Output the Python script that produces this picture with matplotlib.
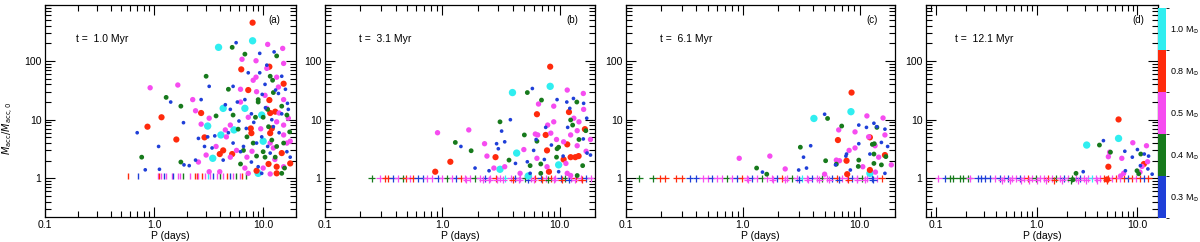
import numpy as np
import matplotlib
matplotlib.use("Agg")
import matplotlib.pyplot as plt
from matplotlib.colors import ListedColormap, BoundaryNorm
from matplotlib.cm import ScalarMappable
from matplotlib.ticker import LogLocator, NullFormatter

plt.rcParams['font.family'] = ['Liberation Sans', 'DejaVu Sans']
plt.rcParams['font.size'] = 7.5

# stellar mass bins and their colours
MASSES = [0.3, 0.4, 0.5, 0.8, 1.0]
MASS_LABELS = ["0.3 M$_{\\odot}$", "0.4 M$_{\\odot}$", "0.5 M$_{\\odot}$",
               "0.8 M$_{\\odot}$", "1.0 M$_{\\odot}$"]
COLORS = {0.3: "#1f3fd8", 0.4: "#177a1c", 0.5: "#f64cf0",
          0.8: "#ff2a0c", 1.0: "#30eef0"}
DOT_SIZE = {0.3: 7, 0.4: 12, 0.5: 15, 0.8: 20, 1.0: 28}

AGES = ["t =  1.0 Myr", "t =  3.1 Myr", "t =  6.1 Myr", "t =  12.1 Myr"]
PANEL_TAGS = ["(a)", "(b)", "(c)", "(d)"]


# ---------------- panel (a), t = 1.0 Myr ----------------
a03_P = [0.70, 1.1, 1.12, 0.83, 1.42, 1.88, 2.1, 1.86, 3.2, 2.7, 2.55, 3.1, 2.9, 2.4, 5.65, 9.3,
         12.6, 10.8, 9.3, 7.3, 5.3, 5.8, 4.5, 5.0, 6.8, 7.8, 13.8, 16, 16.7, 14.8, 9.7, 11.6,
         8.7, 6.6, 5.3, 4.3, 3.4, 7.8, 9, 9.7, 16.5, 17.7, 3.6, 6.2, 7.0, 12.4, 14.8, 10.4,
         12, 14, 8.2, 11, 6.0, 4.8, 17, 10.5, 13, 9.8]
a03_y = [6.0, 3.5, 1.43, 1.4, 20, 1.7, 1.65, 8.9, 37, 22, 4.8, 5.1, 3.5, 2.05, 205, 135,
         143, 85, 63, 63, 37, 20, 18, 15, 22, 12.6, 28, 33, 19, 55, 5.1, 2.7,
         4.0, 3.5, 4.0, 2.05, 3.3, 1.9, 1.58, 1.22, 2.85, 2.3, 5.3, 2.85, 7.1, 7.6, 12.6, 40,
         10, 6, 9, 3.5, 9.5, 6, 15, 16, 32, 27]
a04_P = [0.77, 1.29, 1.76, 3.0, 1.76, 5.2, 6.8, 4.8, 3.7, 5.3, 5.9, 13.3, 11.6, 12.2, 9.0, 9.0,
         10, 12.4, 14.8, 7.1, 8.1, 10, 10.4, 12.9, 14.8, 15.7, 6.2, 8.7, 17.5, 15.4, 11.2, 13.3,
         8.5, 11, 16.5, 6.6, 12]
a04_y = [2.3, 24, 17, 55, 1.9, 171, 131, 33, 11.6, 12, 6.9, 122, 55, 47, 22, 20,
         11, 29, 17, 5.1, 4.0, 2.85, 2.3, 2.3, 1.22, 1.5, 1.76, 2.4, 6.2, 4.0, 7.6, 3.5,
         11, 15, 12, 3, 4.5]
a05_P = [0.92, 1.65, 2.26, 2.4, 2.7, 3.2, 2.55, 3.0, 4.5, 5.0, 4.6, 3.7, 6.2, 8.6, 6.4, 11,
         15.1, 15.4, 8.6, 8.1, 10.8, 13.3, 13.8, 8.7, 10.4, 15.4, 10.8, 13.3, 15.4, 11.6, 12.4,
         15.4, 16.5, 5.0, 5.7, 7.1, 6.8, 3.2, 4.0, 7.3, 10, 11.6, 15.4, 17.7, 17, 6.2, 7.3,
         9.5, 12.8, 14, 7.9]
a05_y = [35, 39, 22, 14.2, 8.4, 10.6, 1.9, 2.5, 6.7, 8.1, 5.1, 3.5, 33, 101, 107, 192,
         164, 91, 53, 47, 75, 53, 36, 30, 26, 22, 15.6, 9.2, 8.1, 4.0, 3.3,
         5.5, 4.0, 2.3, 3.0, 2.3, 1.5, 1.3, 1.3, 1.22, 1.5, 1.19, 1.58, 4.3, 10.6, 20, 11,
         7, 2.1, 13, 2.9]
a08_P = [8.0, 6.3, 11.4, 7.3, 15.4, 1.17, 0.87, 1.6, 2.7, 2.9, 11.4, 12.9, 11.6, 7.7, 7.8,
         11.6, 4.3, 4.0, 5.2, 8.7, 11.2, 13.3, 17.7, 13.3, 14.8, 12]
a08_y = [450, 72, 80, 32, 41, 11, 7.6, 4.6, 13, 5.0, 21.6, 13.7, 13, 7.1, 5.9,
         5.9, 3.0, 2.6, 2.6, 1.35, 1.76, 1.58, 1.8, 1.22, 2.7, 7.1]
a10_P = [3.9, 8.0, 4.3, 3.1, 4.1, 3.45, 5.4, 6.8, 9.7, 9.0, 10]
a10_y = [171, 221, 15.6, 7.8, 5.5, 2.2, 6.7, 15.6, 12, 1.22, 4.3]

# stars still at their initial accretion rate (drawn as ticks)
a_flat_P = [0.58, 0.71, 1.08, 1.12, 1.15, 1.22, 1.29, 1.45, 1.50, 1.65, 1.73, 1.86, 2.14, 2.38,
            2.46, 2.55, 2.74, 2.94, 3.13, 3.26, 3.48, 3.76, 4.03, 4.3, 4.64, 4.98, 5.34, 5.65,
            6.15, 6.4, 6.9]
a_flat_m = [0.8, 0.3, 0.5, 0.8, 0.5, 0.3, 0.5, 0.5, 0.3, 0.5, 0.5, 0.4, 0.5, 0.8,
            0.8, 0.5, 0.8, 0.5, 1.0, 0.5, 0.3, 0.5, 0.4, 0.5, 0.8, 0.3, 0.5, 0.4,
            0.5, 0.8, 0.4]
a_flat_y = 1.1

# ---------------- panel (b), t = 3.1 Myr ----------------
b03_P = [1.44, 1.9, 2.5, 3.2, 3.8, 2.9, 3.0, 3.4, 5.85, 9.5, 11.5, 16, 13.1, 7.6, 6.3, 6.0,
         5.3, 4.2, 7.4, 11.7, 12.2, 17, 15.9, 17.1, 18.3, 10.7, 8.5, 5.6, 9.8]
b03_y = [3.5, 1.5, 1.35, 6.4, 10, 3.9, 3.2, 4.2, 34, 22, 20, 19, 23, 7.4, 4.6, 3.0,
         1.92, 1.8, 2.1, 7.4, 15.6, 10.6, 4.7, 2.7, 2.5, 2.4, 3.7, 1.22, 1.3]
b04_P = [1.29, 1.76, 3.1, 5.3, 7.0, 3.7, 5.0, 5.6, 6.4, 6.9, 9.8, 9.5, 12.4, 12.9, 14, 16.7,
         14.6, 9.4, 6.9, 14.1, 15.7]
b04_y = [4.1, 2.96, 9.2, 29, 21.6, 2.05, 5.5, 1.65, 4.3, 1.76, 3.4, 3.2, 9.9, 8.1, 20, 6.5,
         4.6, 2.3, 1.22, 1.12, 1.65]
b05_P = [0.91, 1.68, 2.29, 2.4, 6.6, 8.9, 11.6, 15.9, 16, 7.9, 8.9, 6.2, 6.5, 4.95, 6.4, 4.6,
         3.4, 2.75, 10.8, 12.4, 14.1, 14.6, 13.2, 18.3, 14.1, 11.3, 7.8, 11.6, 16.8, 8.4,
         12.4, 9.4]
b05_y = [6.0, 6.7, 3.9, 2.4, 18.5, 17, 32, 28, 15, 8.1, 9.2, 5.7, 5.5, 3.1, 2.2, 1.22,
         1.58, 1.5, 4.2, 5.5, 6.5, 9.2, 10.6, 4.6, 3.6, 1.8, 1.58, 1.22, 2.9, 5.9,
         1.12, 4.6]
b08_P = [8.3, 6.4, 12, 16.4, 7.6, 7.8, 2.84, 1.17, 0.87, 10.8, 12.4, 13.6, 11.6, 8.1, 14.5]
b08_y = [80, 12.4, 13.5, 6.9, 5.5, 3.0, 2.3, 1.92, 1.3, 2.1, 2.3, 2.3, 3.8, 1.3, 2.4]
b10_P = [3.96, 8.3, 4.3, 3.1, 9.8, 5.4]
b10_y = [29, 37, 2.7, 1.43, 1.7, 1.1]

b_flat_P = [0.25, 0.295, 0.326, 0.345, 0.38, 0.42, 0.46, 0.49, 0.53, 0.56, 0.62, 0.69, 0.74,
            0.82, 0.91, 1.0, 1.1, 1.22, 1.32, 1.43, 1.57, 1.73, 1.9, 2.1, 2.33, 2.57, 2.84,
            3.13, 3.45, 3.81, 4.2, 4.6, 5.1, 5.65, 6.2, 6.9, 7.6, 8.4, 9.2, 10.2, 11.2, 12.4,
            13.7, 15.1, 16.7, 18.4]
b_flat_m = [0.4, 0.5, 0.8, 0.8, 0.3, 0.5, 0.4, 0.8, 0.5, 0.8, 0.3, 0.3, 0.5,
            0.5, 0.3, 0.5, 0.4, 0.5, 0.3, 0.8, 0.5, 0.5, 0.4, 0.5, 0.3, 0.5, 0.8,
            0.5, 1.0, 0.5, 0.3, 0.5, 0.4, 0.5, 0.8, 0.3, 0.5, 0.8, 0.5, 0.3, 0.4, 0.5,
            0.8, 0.5, 0.3, 0.5]
b_flat_y = 1.0
b_low_P = [1.6, 2.2, 2.5, 2.9, 3.3, 4.0, 4.5, 5.4, 6.0, 7.0, 8.0, 9.0, 10.5, 12, 13.5, 15.5]
b_low_m = [0.5, 0.5, 0.5, 0.5, 0.5, 0.8, 0.5, 0.3, 0.5, 0.8, 0.4, 0.5, 0.8, 0.3, 0.5, 0.8]
b_low_y = 0.95

# ---------------- panel (c), t = 6.1 Myr ----------------
c03_P = [1.47, 3.0, 3.3, 3.5, 3.8, 5.0, 6.2, 7.7, 7.6, 9.8, 9.8, 11.4, 13.2, 14, 16.4, 15.3,
         17.3, 16.4, 12.2, 8.3]
c03_y = [1.28, 1.39, 2.3, 1.5, 3.6, 12.4, 1.7, 2.6, 2.4, 8.1, 3.9, 7.4, 8.7, 7.6, 6.9, 4.1,
         3.5, 1.22, 2.6, 1.39]
c04_P = [1.31, 3.1, 5.3, 7.0, 5.1, 6.3, 14, 12.8, 13.3, 13.2, 16.7, 15.3, 13.2, 9.8, 9.7, 1.6]
c04_y = [1.5, 3.4, 10.5, 7.8, 2.0, 1.75, 7.4, 3.8, 3.9, 2.6, 2.35, 1.7, 1.8, 2.05, 1.6, 1.18]
c05_P = [0.93, 1.7, 2.3, 6.6, 6.3, 6.7, 8.1, 9.1, 9.1, 11.5, 15.8, 16.4, 11.9, 13.5, 14.5,
         18.6, 13.6, 10.6, 5.0]
c05_y = [2.2, 2.4, 1.45, 6.7, 2.05, 2.0, 3.0, 3.3, 6.2, 11.6, 10.7, 5.5, 5.1, 3.6, 2.3,
         1.7, 1.28, 1.58, 1.18]
c08_P = [8.5, 6.5, 12.2, 7.7, 16.4, 12.2, 7.8]
c08_y = [29, 4.5, 5.0, 2.0, 2.5, 1.39, 1.18]
c10_P = [4.05, 8.4, 12.2]
c10_y = [10.5, 13.7, 1.22]

c_flat_P = [0.13, 0.17, 0.195, 0.215, 0.27, 0.30, 0.35, 0.40, 0.455, 0.50, 0.54, 0.60, 0.66,
            0.73, 0.81, 0.89, 0.98, 1.08, 1.19, 1.32, 1.45, 1.6, 1.77, 1.95, 2.15, 2.38, 2.62,
            2.9, 3.19, 3.52, 3.89, 4.29, 4.73, 5.22, 5.76, 6.36, 7.0, 7.74, 8.5, 9.4, 10.4,
            11.5, 12.7, 14, 15.4]
c_flat_m = [0.4, 0.4, 0.8, 0.8, 0.8, 0.8, 0.3, 0.3, 0.5, 0.5, 0.3, 0.5, 0.5,
            0.4, 0.5, 0.3, 0.8, 0.5, 0.3, 0.5, 0.4, 0.5, 0.5, 0.3, 0.8, 0.5, 0.4,
            0.5, 1.0, 0.5, 0.3, 0.5, 0.4, 0.5, 0.3, 0.8, 0.5, 0.5, 0.3, 0.5, 0.4,
            0.5, 0.3, 0.5, 0.8]
c_flat_y = 1.0
c_low_P = [1.1, 1.8, 2.3, 3.0, 3.6, 4.5, 5.5, 6.6, 8.0, 9.5, 11, 13]
c_low_m = [0.5, 0.5, 0.5, 0.3, 0.5, 0.5, 0.5, 0.3, 0.8, 0.5, 0.5, 0.3]
c_low_y = 0.95

# ---------------- panel (d), t = 12.1 Myr ----------------
d03_P = [4.6, 2.9, 7.5, 7.6, 8.9, 10.0, 12.9, 12.7, 14, 11.7, 10.7]
d03_y = [4.4, 1.3, 2.9, 1.35, 2.3, 3.1, 2.4, 1.45, 1.18, 2.6, 1.65]
d04_P = [4.2, 5.4, 2.46, 10.8, 9.9, 10.3, 2.3]
d04_y = [3.7, 2.8, 1.22, 2.6, 1.35, 1.2, 0.95]
d05_P = [5.15, 5.3, 7.0, 7.3, 9.0, 12.3, 12.6, 10.6, 11.1, 6.8]
d05_y = [2.34, 2.8, 2.2, 1.22, 4.05, 3.6, 1.92, 1.28, 1.6, 1.1]
d08_P = [6.5, 5.15, 11.6, 5.0]
d08_y = [10.1, 1.58, 1.76, 0.96]
d10_P = [3.14, 6.5]
d10_y = [3.7, 4.8]

d_flat_P = [0.106, 0.124, 0.138, 0.148, 0.174, 0.186, 0.209, 0.219, 0.262, 0.281, 0.308,
            0.345, 0.387, 0.434, 0.475, 0.521, 0.57, 0.625, 0.685, 0.75, 0.82, 0.90, 0.99,
            1.08, 1.19, 1.3, 1.42, 1.56, 1.71, 1.87, 2.05, 2.25, 2.46, 2.7, 2.96, 3.24, 3.55,
            3.89, 4.26, 4.67, 5.12, 5.6, 6.14, 6.73, 7.38, 8.08, 8.85, 9.7, 10.6, 11.65, 12.8]
d_flat_m = [0.5, 0.3, 0.4, 0.4, 0.4, 0.4, 0.4, 0.5, 0.3, 0.3, 0.3,
            0.3, 0.5, 0.3, 0.5, 0.3, 0.5, 0.5, 0.3, 0.5, 0.8, 0.5, 0.4,
            0.5, 0.5, 0.8, 0.5, 0.4, 0.5, 0.3, 0.5, 0.4, 0.5, 0.3, 0.5, 0.5, 1.0,
            0.5, 0.5, 0.8, 0.8, 0.5, 0.8, 0.5, 0.8, 0.3, 0.8, 0.5, 0.8, 0.3, 0.8]
d_flat_y = 1.0
d_low_P = [0.45, 0.55, 0.7, 0.85, 1.0, 1.25, 1.5, 1.8, 2.2, 2.6, 3.1, 4.0, 5.0]
d_low_m = [0.5, 0.5, 0.5, 0.5, 0.5, 0.5, 0.8, 0.5, 0.4, 0.5, 0.5, 0.5, 0.8]
d_low_y = 0.93


panels = [
    {"dots": {0.3: (a03_P, a03_y), 0.4: (a04_P, a04_y), 0.5: (a05_P, a05_y),
              0.8: (a08_P, a08_y), 1.0: (a10_P, a10_y)},
     "flat": [(a_flat_P, a_flat_m, a_flat_y)], "marker": "|",
     "rect": [45, 251], "xlim": (0.1, 20)},
    {"dots": {0.3: (b03_P, b03_y), 0.4: (b04_P, b04_y), 0.5: (b05_P, b05_y),
              0.8: (b08_P, b08_y), 1.0: (b10_P, b10_y)},
     "flat": [(b_flat_P, b_flat_m, b_flat_y), (b_low_P, b_low_m, b_low_y)], "marker": "+",
     "rect": [325, 270], "xlim": (0.1, 20)},
    {"dots": {0.3: (c03_P, c03_y), 0.4: (c04_P, c04_y), 0.5: (c05_P, c05_y),
              0.8: (c08_P, c08_y), 1.0: (c10_P, c10_y)},
     "flat": [(c_flat_P, c_flat_m, c_flat_y), (c_low_P, c_low_m, c_low_y)], "marker": "+",
     "rect": [626, 269], "xlim": (0.1, 20)},
    {"dots": {0.3: (d03_P, d03_y), 0.4: (d04_P, d04_y), 0.5: (d05_P, d05_y),
              0.8: (d08_P, d08_y), 1.0: (d10_P, d10_y)},
     "flat": [(d_flat_P, d_flat_m, d_flat_y), (d_low_P, d_low_m, d_low_y)], "marker": "+",
     "rect": [926, 232], "xlim": (0.08, 16)},
]

W, H = 1200, 242
fig = plt.figure(figsize=(W / 100, H / 100), dpi=100)

for i, p in enumerate(panels):
    left, width = p["rect"]
    ax = fig.add_axes([left / W, 25 / H, width / W, 212 / H])

    # flat (non-evolved) stars along ratio = 1
    for fP, fm, level in p["flat"]:
        cols = [COLORS[m] for m in fm]
        if p["marker"] == "|":
            ax.scatter(fP, np.full(len(fP), level), marker="|", c=cols, s=16,
                       linewidths=1.0, zorder=2)
        else:
            ax.scatter(fP, np.full(len(fP), level), marker="+", c=cols, s=28,
                       linewidths=0.9, zorder=2)

    for m in [1.0, 0.8, 0.5, 0.4, 0.3]:
        P, y = p["dots"][m]
        ax.scatter(P, y, s=DOT_SIZE[m], color=COLORS[m], edgecolors="none", zorder=3)

    ax.set_xscale("log")
    ax.set_yscale("log")
    ax.set_xlim(*p["xlim"])
    ax.set_ylim(0.22, 900)
    ax.set_xticks([0.1, 1, 10], ["0.1", "1.0", "10.0"])
    ax.set_yticks([1, 10, 100], ["1", "10", "100"])
    ax.xaxis.set_minor_locator(LogLocator(base=10, subs=(2, 3, 4, 5, 6, 7, 8, 9)))
    ax.yaxis.set_minor_locator(LogLocator(base=10, subs=(2, 3, 4, 5, 6, 7, 8, 9)))
    ax.xaxis.set_minor_formatter(NullFormatter())
    ax.yaxis.set_minor_formatter(NullFormatter())
    ax.tick_params(which="both", direction="in", top=True, right=True, width=0.8)
    ax.tick_params(which="major", length=7, pad=2.5)
    ax.tick_params(which="minor", length=4)
    for s in ax.spines.values():
        s.set_linewidth(0.9)

    ax.set_xlabel("P (days)", labelpad=0.5)
    ax.text(0.125, 0.84, AGES[i], transform=ax.transAxes, ha="left", va="center")
    ax.text(0.915, 0.93, PANEL_TAGS[i], transform=ax.transAxes, ha="center", va="center",
            fontsize=7)

    if i == 0:
        ax.set_ylabel(r"$\dot{M}_{\rm acc}/\dot{M}_{\rm acc,0}$", fontsize=7)
        ax.yaxis.set_label_coords(-0.115, 0.42)

# discrete mass colour bar
cax = fig.add_axes([1158 / W, 24 / H, 8 / W, 210 / H])
cmap = ListedColormap([COLORS[m] for m in MASSES])
norm = BoundaryNorm(np.arange(len(MASSES) + 1), cmap.N)
cb = fig.colorbar(ScalarMappable(norm=norm, cmap=cmap), cax=cax,
                  ticks=np.arange(len(MASSES)) + 0.5)
cb.ax.set_yticklabels(MASS_LABELS, fontsize=6.5)
cb.ax.tick_params(length=0, pad=3)
cb.outline.set_visible(False)

fig.savefig("out.png", dpi=100)
